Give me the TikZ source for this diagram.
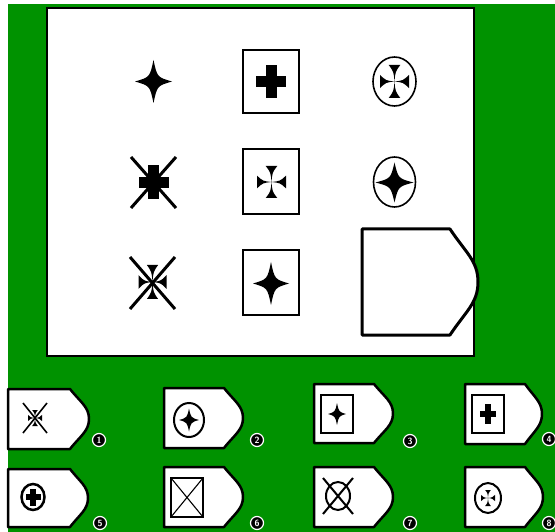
\documentclass[tikz,border=0pt]{standalone}
\usepackage{tikz}
\definecolor{bggreen}{RGB}{0,146,0}
\tikzset{
  numlabel/.style={circle, fill=black, draw=white, line width=1.2pt, inner sep=0pt, minimum size=13pt, text=white, font=\sffamily\bfseries\fontsize{9}{9}\selectfont},
  framebox/.style={draw=black, fill=white},
}
\newcommand{\StarShape}[4]{%
  \begin{scope}[shift={(#1,#2)}, xscale=#3, yscale=#4]
    \fill (0,-1) .. controls (0.2,-0.2) .. (1,0) .. controls (0.2,0.2) .. (0,1)
      .. controls (-0.2,0.2) .. (-1,0) .. controls (-0.2,-0.2) .. (0,-1) -- cycle;
  \end{scope}}
\newcommand{\MalteseShape}[4]{%
  \begin{scope}[shift={(#1,#2)}, xscale=#3, yscale=#4]
    \foreach \a in {0,90,180,270}{
      \fill[rotate=\a] (0,0) .. controls (0.6,-0.06) .. (1,-0.4) -- (1,0.4) .. controls (0.6,0.06) .. (0,0) -- cycle;}
  \end{scope}}
\newcommand{\PlusShape}[5]{%
  \fill (#1-#3,#2-#5) rectangle (#1+#3,#2+#5);
  \fill (#1-#5,#2-#4) rectangle (#1+#5,#2+#4);}
\newcommand{\XShape}[5]{%
  \draw[line width=#5] (#1-#3,#2-#4) -- (#1+#3,#2+#4) (#1-#3,#2+#4) -- (#1+#3,#2-#4);}
\newcommand{\TagShape}[6]{%
  \draw[fill=white, line width=#6, line join=round] (#1,#2) -- (#3,#2)
   .. controls ({#3+0.55*(#4-#3)},{#2+0.22*(#5-#2)}) and (#4,{(#2+#5)/2-0.2*(#5-#2)}) .. (#4,{(#2+#5)/2})
   .. controls (#4,{(#2+#5)/2+0.2*(#5-#2)}) and ({#3+0.55*(#4-#3)},{#5-0.22*(#5-#2)}) .. (#3,#5)
   -- (#1,#5) -- cycle;}
\begin{document}
\begin{tikzpicture}[x=1pt,y=-1pt]
  % background
  \fill[white] (0,0) rectangle (555,532);
  \useasboundingbox (0,0) rectangle (555,532);
  \fill[bggreen] (8,4) rectangle (555,532);
  % main panel
  \draw[framebox, line width=1.5pt] (47,8) rectangle (474,356);

  % row 1
  \StarShape{153.5}{81.5}{18.5}{21.5}
  \draw[framebox, line width=1.3pt] (243,50) rectangle (299,113);
  \PlusShape{271}{81.5}{15}{16.5}{5.5}
  \draw[line width=1.6pt] (394.5,81.5) ellipse [x radius=21.5, y radius=24.5];
  \MalteseShape{394.5}{81.5}{14.5}{16.5}

  % row 2
  \XShape{153.5}{182.5}{22.5}{25.5}{3pt}
  \PlusShape{153.5}{182.5}{15}{17}{5.5}
  \draw[framebox, line width=1.3pt] (243,149) rectangle (299,214);
  \MalteseShape{271.5}{182}{14.5}{16}
  \draw[line width=1.6pt] (394.5,182) ellipse [x radius=21, y radius=25];
  \StarShape{394.5}{182.5}{19}{20}

  % row 3
  \XShape{152.5}{283}{22.5}{26}{3pt}
  \MalteseShape{152.5}{282}{14}{17}
  \draw[framebox, line width=1.3pt] (243,250) rectangle (299,315);
  \StarShape{271}{283.5}{18}{21.5}
  \TagShape{362}{229}{450}{478}{335}{3pt}

  % answer options
  \TagShape{8}{389}{70}{89}{449}{2.5pt}
  \XShape{35}{418}{12}{15}{1.6pt}
  \MalteseShape{35}{418}{7}{8}
  \node[numlabel] (n1) at (99,440) {1};

  \TagShape{164}{388}{224}{243}{448}{2.5pt}
  \draw[line width=2pt] (189,420) ellipse [x radius=15, y radius=17];
  \StarShape{189}{420}{10}{11.5}
  \node[numlabel] (n2) at (257,440) {2};

  \TagShape{314}{384}{374}{393}{443}{2.5pt}
  \draw[line width=2.5pt] (321,395) rectangle (353,433);
  \StarShape{337}{414}{9}{11}
  \node[numlabel] (n3) at (410,441) {3};

  \TagShape{465}{384}{525}{542}{444}{2.5pt}
  \draw[line width=2.5pt] (472,395) rectangle (504,433);
  \PlusShape{488}{414}{8}{10}{2.8}
  \node[numlabel] (n4) at (549,439) {4};

  \TagShape{8}{469}{70}{88}{527}{2.5pt}
  \draw[line width=2.5pt] (33,497) ellipse [x radius=11.5, y radius=13];
  \PlusShape{33}{497}{7.5}{8.5}{2.6}
  \node[numlabel] (n5) at (100,523) {5};

  \TagShape{164}{467}{224}{243}{527}{2.5pt}
  \draw[line width=2.5pt] (171,478) rectangle (203,517);
  \draw[line width=1.1pt] (171,478) -- (203,517) (171,517) -- (203,478);
  \node[numlabel] (n6) at (257,523) {6};

  \TagShape{314}{467}{374}{393}{527}{2.5pt}
  \draw[line width=2pt] (338,496) ellipse [x radius=12, y radius=14];
  \XShape{338}{496}{15}{18}{2pt}
  \node[numlabel] (n7) at (410,523) {7};

  \TagShape{465}{467}{525}{543}{527}{2.5pt}
  \draw[line width=2pt] (488,498) ellipse [x radius=13, y radius=15];
  \MalteseShape{488}{498}{7}{8}
  \node[numlabel] (n8) at (549,523) {8};
\end{tikzpicture}
\end{document}
